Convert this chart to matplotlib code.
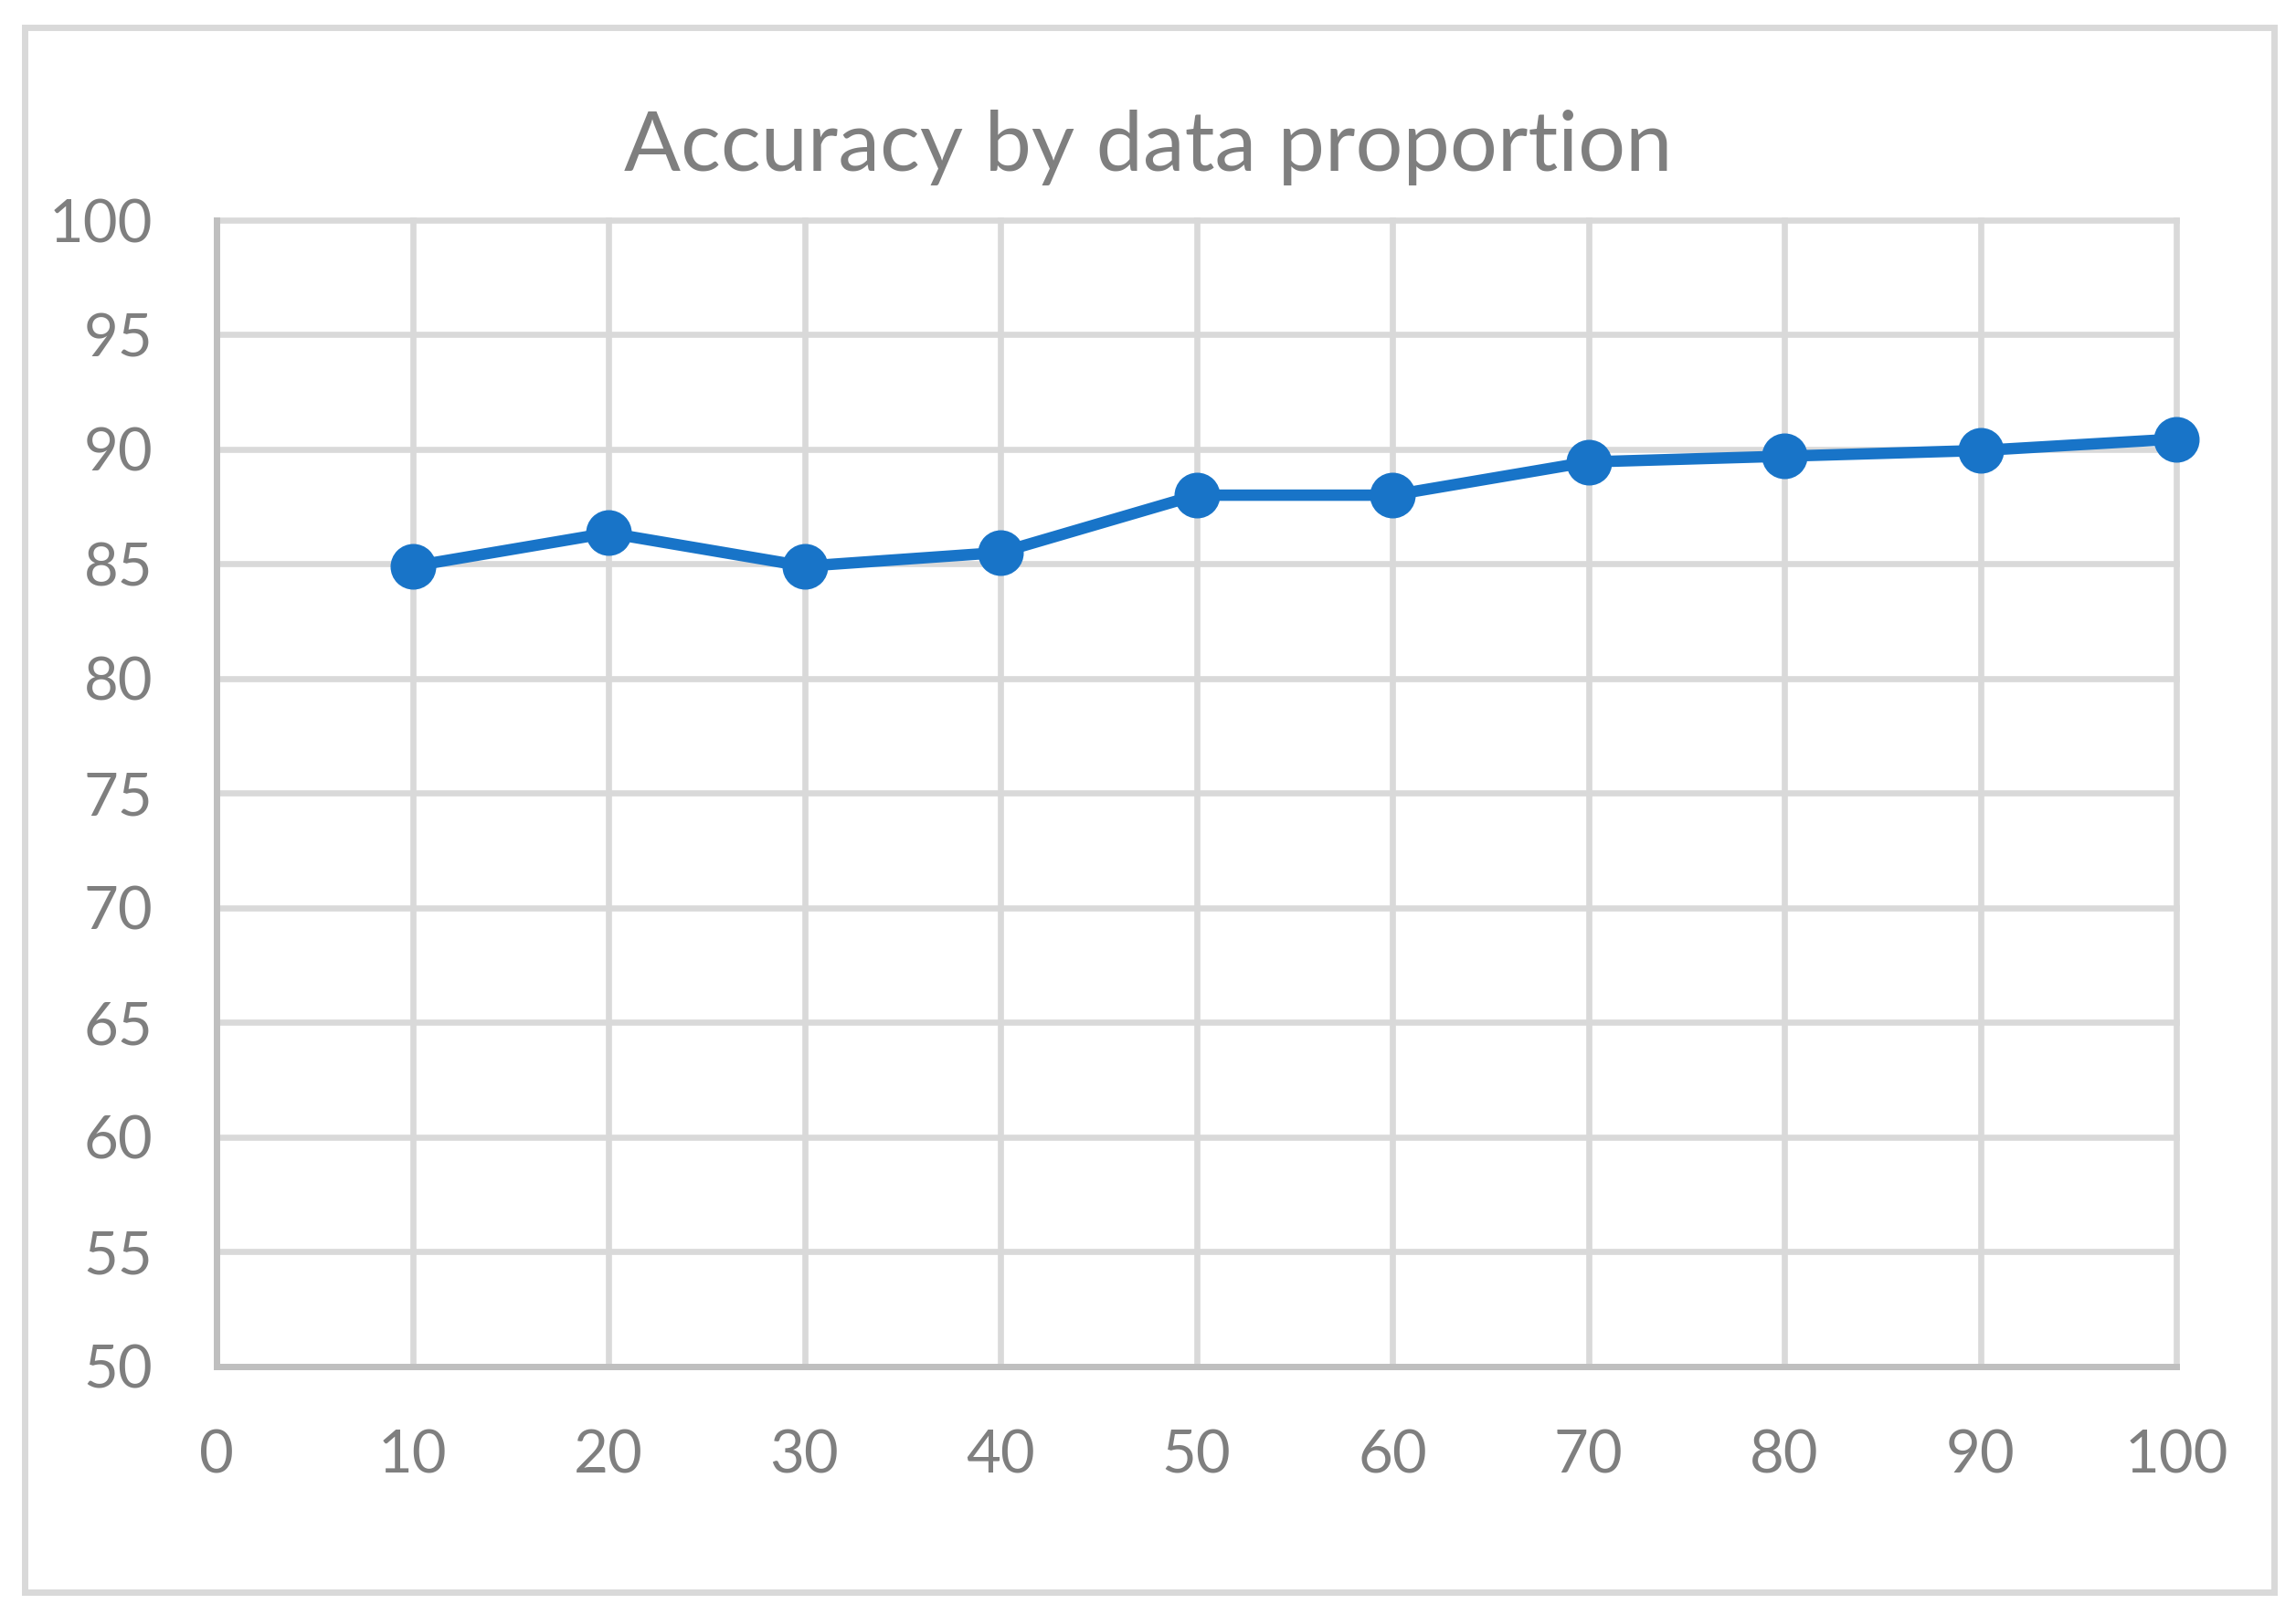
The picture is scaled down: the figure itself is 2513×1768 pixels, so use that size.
import matplotlib
matplotlib.use("Agg")
import matplotlib.pyplot as plt
from matplotlib.patches import Rectangle

# data
proportion = [10, 20, 30, 40, 50, 60, 70, 80, 90, 100]
accuracy = [84.9, 86.35, 84.9, 85.5, 88.0, 88.0, 89.45, 89.7, 89.95, 90.45]
x_ticks = list(range(0, 101, 10))
y_ticks = list(range(50, 101, 5))

W, H, DPI = 2513, 1768, 100
TXT = "#7f7f7f"; GRID = "#d9d9d9"; SPINE = "#bfbfbf"; BLUE = "#1874c8"
plt.rcParams["font.family"] = ["Lato", "DejaVu Sans"]

fig = plt.figure(figsize=(W / DPI, H / DPI), dpi=DPI)
fig.patch.set_facecolor("white")
# outer chart-area border
fig.add_artist(Rectangle((27 / W, 1 - 1743 / H), (2489 - 27) / W, (1743 - 30) / H,
                         transform=fig.transFigure, fill=False, ec=GRID, lw=5))

ax = fig.add_axes([237 / W, 1 - 1495.5 / H, (2382 - 237) / W, (1495.5 - 241) / H])
ax.plot(proportion, accuracy, color=BLUE, lw=9, marker="o", ms=35,
        mfc=BLUE, mec=BLUE, zorder=5, clip_on=False, solid_joinstyle="round")
ax.set_xlim(0, 100); ax.set_ylim(50, 100)
ax.set_xticks(x_ticks); ax.set_yticks(y_ticks)
ax.grid(True, color=GRID, lw=4.8)
for gl in ax.get_xgridlines() + ax.get_ygridlines():
    gl.set_clip_on(False)
ax.set_axisbelow(True)
for s in ["top", "right"]:
    ax.spines[s].set_visible(False)
for s in ["left", "bottom"]:
    ax.spines[s].set_color(SPINE); ax.spines[s].set_linewidth(5); ax.spines[s].set_zorder(3)
ax.tick_params(length=0, labelsize=47, labelcolor=TXT)
ax.tick_params(axis="y", pad=50)
ax.tick_params(axis="x", pad=50)
# title is centred on the whole chart area, not on the plot area
fig.text(0.5, 1 - 187 / H, "Accuracy by data proportion", fontsize=66, color=TXT,
         ha="center", va="baseline")

fig.savefig("out.png", dpi=DPI)
